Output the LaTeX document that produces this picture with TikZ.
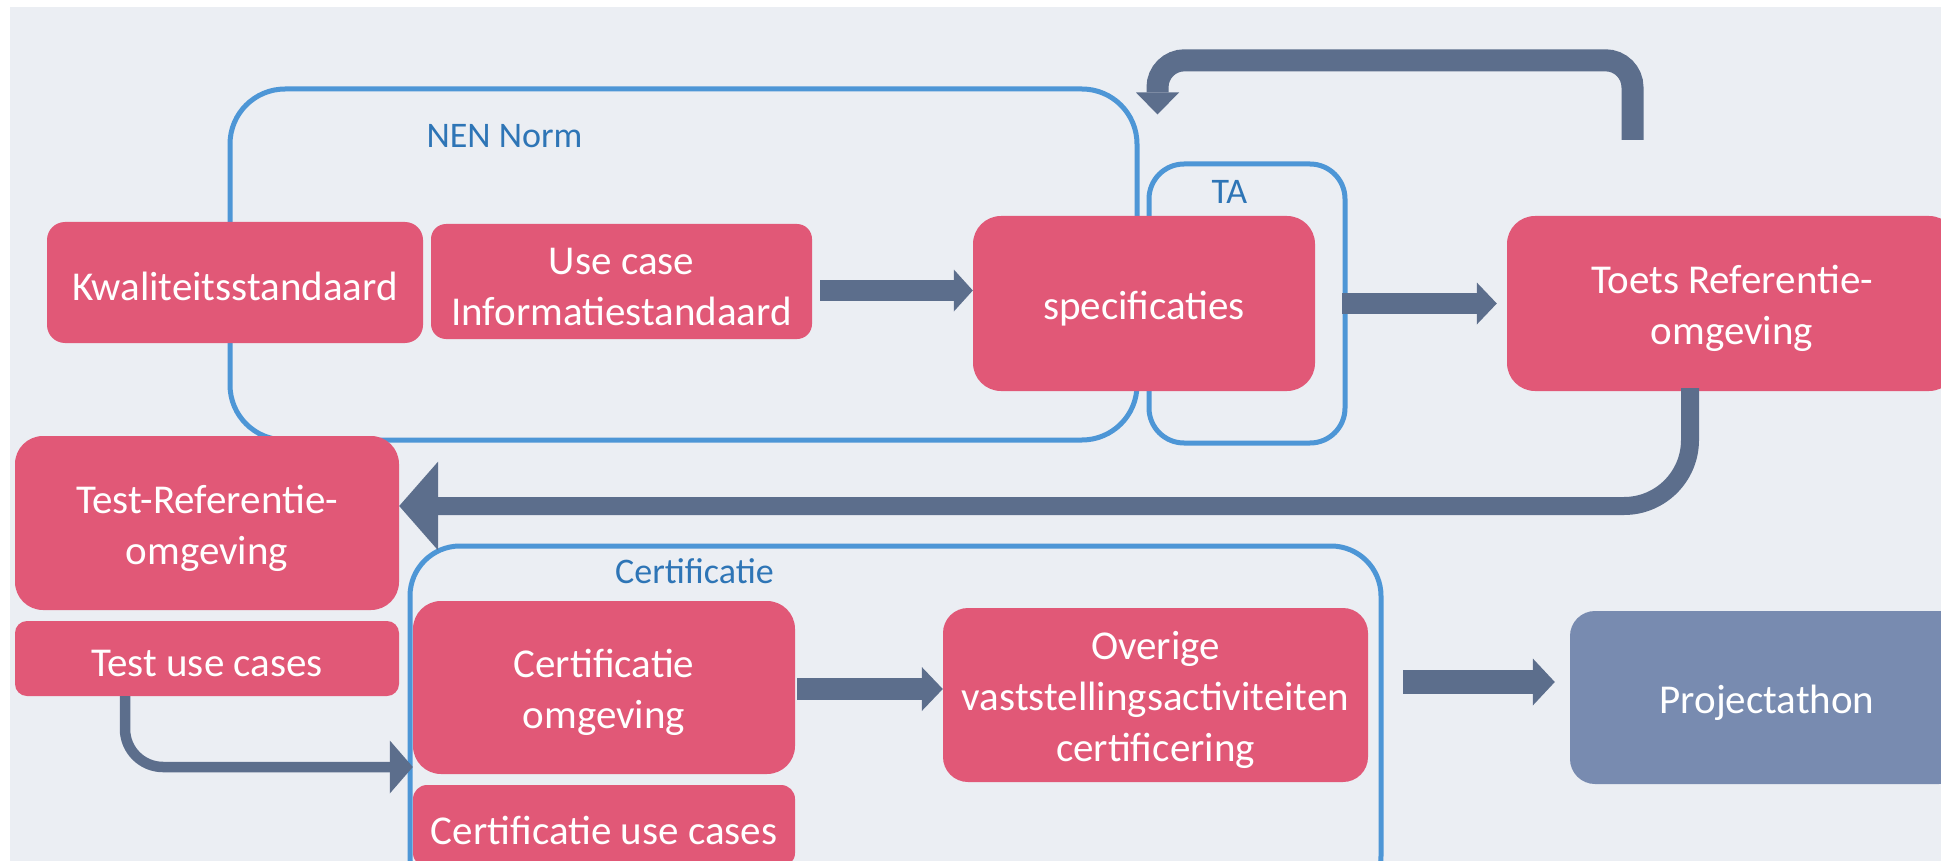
\documentclass[tikz,border=0pt]{standalone}
\usepackage{fontspec}
\setmainfont{Carlito}
\usetikzlibrary{arrows.meta,calc}
\definecolor{bgc}{HTML}{EBEEF3}
\definecolor{pinkc}{HTML}{E15877}
\definecolor{arrc}{HTML}{5C6E8C}
\definecolor{contc}{HTML}{4D96D6}
\definecolor{lblc}{HTML}{2E75B6}
\definecolor{projc}{HTML}{788BB0}
\newcommand{\boxstrut}{\rule[-3pt]{0pt}{42pt}}
\begin{document}
\begin{tikzpicture}[x=1pt,y=-1pt,
  box/.style={fill=pinkc, text=white, rounded corners=#1, inner sep=0pt, align=center,
    font=\fontsize{41}{51}\selectfont},
  box/.default=25pt,
  container/.style={draw=contc, line width=5pt, rounded corners=#1, inner sep=0pt},
  lab/.style={text=lblc, inner sep=0pt, font=\fontsize{36}{43}\selectfont},
  conn/.style={draw=arrc, line width=#1},
]
\useasboundingbox (0,0) rectangle (1941,861);
\clip (0,0) rectangle (1941,861);
\fill[white] (0,0) rectangle (1941,861);
\fill[bgc] (10,7) rectangle (1941,861);

% containers
\node[container=55pt, minimum width=907pt, minimum height=351pt] (nen) at (683.5,264.5) {};
\node[container=35pt, minimum width=196pt, minimum height=279pt] (ta) at (1247,303.5) {};
\node[container=50pt, minimum width=971pt, minimum height=360pt] (cert) at (895.5,726) {};
\node[lab, anchor=base] (nenlbl) at (504.5,148) {NEN Norm};
\node[lab, anchor=base] (talbl) at (1229.5,204) {TA};
\node[lab, anchor=base] (certlbl) at (694.5,583) {Certificatie};

% boxes
\node[box=18pt, minimum width=376pt, minimum height=121pt] (kwal) at (235,282.5) {\boxstrut Kwaliteitsstandaard};
\node[box=15pt, minimum width=381pt, minimum height=115pt] (usecase) at (621.5,281.5) {\boxstrut Use case\\\boxstrut Informatiestandaard};
\node[box=28pt, minimum width=342pt, minimum height=175pt] (spec) at (1144,303.5) {\boxstrut specificaties};
\node[box=28pt, minimum width=450pt, minimum height=175pt] (toets) at (1732,303.5) {\boxstrut Toets Referentie-\\\boxstrut omgeving};
\node[box=28pt, minimum width=384pt, minimum height=174pt] (testref) at (207,523) {\boxstrut Test-Referentie-\\\boxstrut omgeving};
\node[box=12pt, minimum width=384pt, minimum height=75pt] (testuse) at (207,658.5) {\boxstrut Test use cases};
\node[box=28pt, minimum width=382pt, minimum height=173pt] (certomg) at (604,687.5) {\boxstrut Certificatie\\\boxstrut omgeving};
\node[box=14pt, minimum width=382pt, minimum height=82pt] (certuse) at (604,826) {\boxstrut Certificatie use cases};
\node[box=25pt, minimum width=425pt, minimum height=174pt] (overige) at (1155.5,695) {\boxstrut Overige\\\boxstrut vaststellingsactiviteiten\\\boxstrut certificering};
\node[box=25pt, fill=projc, minimum width=394pt, minimum height=173pt] (project) at (1767,697.5) {\boxstrut Projectathon};

% connectors
\draw[conn=21pt, -{Triangle[length=19pt,width=42pt,line width=0pt]}]
  ($(usecase.east)+(8,9)$) -- ($(spec.west)+(0,-13)$);
\draw[conn=21pt, -{Triangle[length=20pt,width=42pt,line width=0pt]}]
  ($(spec.east)+(27,0)$) -- ($(toets.west)+(-10,0)$);
\draw[conn=22pt, -{Triangle[length=21pt,width=44pt,line width=0pt]}]
  ($(certomg.east)+(2,1.5)$) -- ($(overige.west)+(0,-6)$);
\draw[conn=24pt, -{Triangle[length=22pt,width=47pt,line width=0pt]}]
  ($(overige.east)+(35,-13)$) -- ($(project.west)+(-15,-15.5)$);

\coordinate (u1) at ($(toets.south)+(-42,-3)$);
\coordinate (u2) at ($(testref.east)+(0,-17)$);
\draw[conn=18pt, rounded corners=66pt, -{Triangle[length=39pt,width=89pt,line width=0pt]}]
  (u1) |- (u2);

\coordinate (l1) at ($(toets.north)+(-99.5,-76)$);
\coordinate (l2) at ($(ta.north)+(-89.5,-47)$);
\draw[conn=22pt, rounded corners=27pt, -{Triangle[length=22pt,width=43pt,line width=0pt]}]
  (l1) -- ++(0,-79.5) -| (l2);

\coordinate (t1) at ($(testuse.south)+(-82,0)$);
\coordinate (t2) at ($(certomg.west)+(0,79.5)$);
\draw[conn=10.5pt, rounded corners=38pt, -{Triangle[length=23pt,width=53pt,line width=0pt]}]
  (t1) |- (t2);
\end{tikzpicture}
\end{document}
